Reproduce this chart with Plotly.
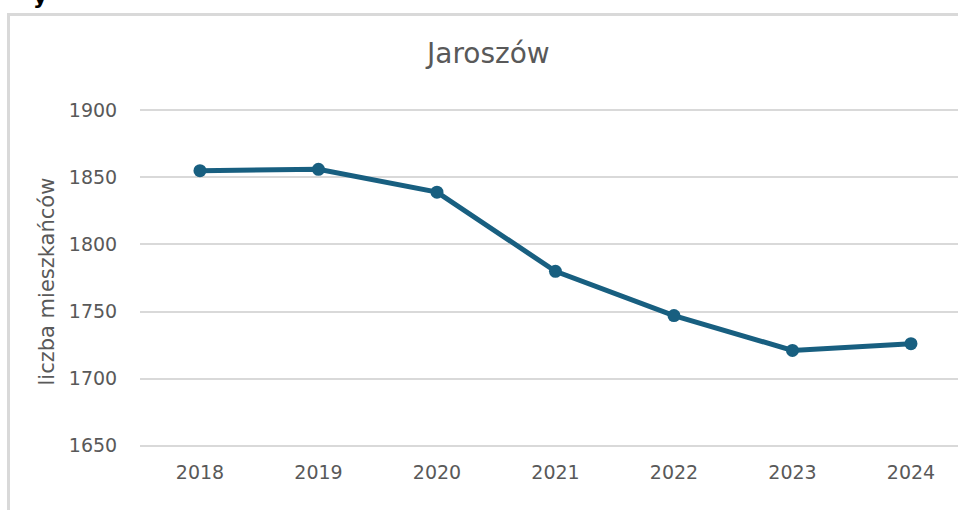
import plotly.graph_objects as go

years = ["2018", "2019", "2020", "2021", "2022", "2023", "2024"]
residents = [1855, 1856, 1839, 1780, 1747, 1721, 1726]
y_ticks = [1650, 1700, 1750, 1800, 1850, 1900]
title_text = "Jaroszów"
y_title = "liczba mieszkańców"

W, H = 958, 510
L, R, T, B = 140, 0, 109, 63
pw = W - L - R
ph = H - T - B

def px(x):
    return (x - L) / pw

def py(y):
    return (H - B - y) / ph

fig = go.Figure()
fig.add_trace(go.Scatter(
    x=list(range(len(years))), y=residents, mode="lines+markers",
    line=dict(color="#185f80", width=5),
    marker=dict(color="#185f80", size=13),
    hoverinfo="x+y",
))

grey = "#595959"
fnt = "DejaVu Sans, Liberation Sans, Arial, sans-serif"
fig.update_layout(
    width=W, height=H,
    margin=dict(l=L, r=R, t=T, b=B, pad=0),
    paper_bgcolor="white", plot_bgcolor="white",
    showlegend=False,
    font=dict(family=fnt, color=grey, size=19),
    xaxis=dict(
        tickmode="array", tickvals=list(range(len(years))), ticktext=years,
        range=[-0.506, 6.397], showgrid=False, zeroline=False, showline=False,
        ticks="outside", ticklen=8, tickcolor="rgba(0,0,0,0)",
        tickfont=dict(size=19, color=grey),
    ),
    yaxis=dict(
        tickmode="array", tickvals=y_ticks, ticktext=[str(v) for v in y_ticks],
        range=[1649, 1901], showgrid=True, gridcolor="#d9d9d9", gridwidth=1.5,
        zeroline=False, showline=False, ticks="outside", ticklen=18,
        tickcolor="rgba(0,0,0,0)", tickfont=dict(size=19, color=grey),
    ),
    shapes=[
        dict(type="line", xref="paper", yref="paper",
             x0=px(8.5), x1=px(8.5), y0=py(H + 5), y1=py(14.5),
             line=dict(color="#d9d9d9", width=3)),
        dict(type="line", xref="paper", yref="paper",
             x0=px(7), x1=px(W + 5), y0=py(14.5), y1=py(14.5),
             line=dict(color="#d9d9d9", width=3)),
    ],
    annotations=[
        dict(text=title_text, xref="paper", yref="paper",
             x=px(487.5), y=py(53), xanchor="center", yanchor="middle",
             showarrow=False, font=dict(size=28, color=grey)),
        dict(text=y_title, xref="paper", yref="paper",
             x=px(46), y=py(281.5), xanchor="center", yanchor="middle",
             textangle=-90, showarrow=False, font=dict(size=21, color=grey)),
        dict(text="<b>y</b>", xref="paper", yref="paper",
             x=px(40), y=py(11), xanchor="center", yanchor="bottom",
             showarrow=False, font=dict(size=22, color="black")),
    ],
)

fig.write_html("out.html", config={"displayModeBar": False},
               post_script="document.body.style.margin='0';")
